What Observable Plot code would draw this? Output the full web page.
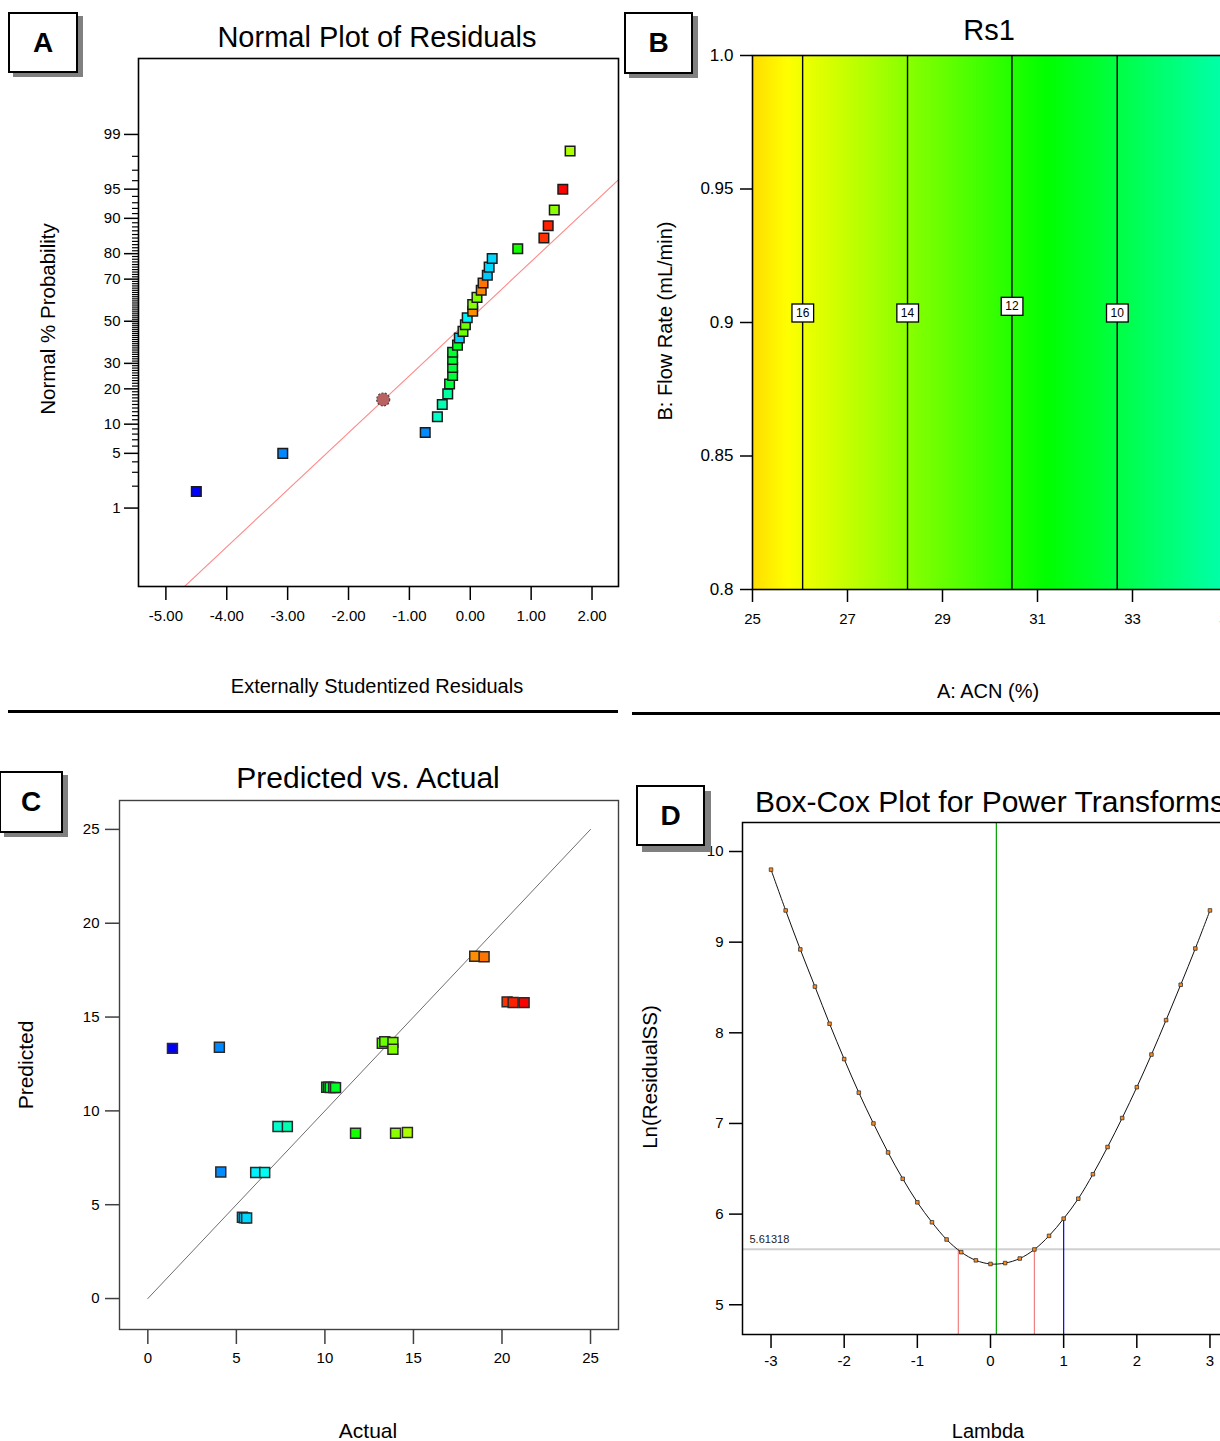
<!DOCTYPE html>
<html>
<head>
<meta charset="utf-8">
<script src="https://cdn.jsdelivr.net/npm/d3@7"></script>
<script src="https://cdn.jsdelivr.net/npm/@observablehq/plot@0.6"></script>
<style>
  html, body { margin: 0; padding: 0; background: #fff; }
  #root { position: relative; width: 1220px; height: 1441px; overflow: hidden; background: #fff;
          font-family: "Liberation Sans", Arial, Helvetica, sans-serif; color: #000; }
  .txt { position: absolute; white-space: nowrap; line-height: 1; transform: translate(-50%, -50%); }
  .txt.rot { transform: translate(-50%, -50%) rotate(-90deg); }
  .tag { position: absolute; box-sizing: border-box; border: 2px solid #000; background: #fff;
         font: bold 28px "Liberation Sans", Arial, sans-serif; display: flex; align-items: center; justify-content: center; }
  .sep { position: absolute; background: #000; }
</style>
</head>
<body>
<div id="root"></div>
<script>
// ---------- A: normal probability plot of externally studentized residuals ----------
const residuals = [-4.50, -3.08, -0.74, -0.54, -0.46, -0.37, -0.34, -0.29, -0.29, -0.29,
                   -0.29, -0.21, -0.18, -0.12, -0.08, -0.05, 0.04, 0.04, 0.11, 0.18,
                   0.21, 0.28, 0.31, 0.36, 0.78, 1.21, 1.28, 1.38, 1.52, 1.64];
const normalPct = [1.7, 5.0, 8.3, 11.7, 15.0, 18.3, 21.7, 25.0, 28.3, 31.7,
                   35.0, 38.3, 41.7, 45.0, 48.3, 51.7, 55.0, 58.3, 61.7, 65.0,
                   68.3, 71.7, 75.0, 78.3, 81.7, 85.0, 88.3, 91.7, 95.0, 98.3];
const residualRs1 = [1.4, 4.0, 4.1, 7.4, 7.9, 8.2, 10.1, 10.2, 10.2, 10.3,
                     10.4, 10.6, 5.5, 13.4, 13.5, 6.1, 18.5, 13.9, 13.8, 18.6,
                     19.0, 5.3, 5.6, 5.6, 11.7, 20.3, 20.6, 14.0, 21.2, 14.7];
const flaggedResidual = -1.43;
const flaggedPct = 16.5;
const normalLineResidual = [-3, 2];
const normalLinePct = [1.79, 92.7];
const probMajorTicks = [1, 5, 10, 20, 30, 50, 70, 80, 90, 95, 99];
const residualTicks = [-5, -4, -3, -2, -1, 0, 1, 2];

// ---------- B: Rs1 contour over ACN and flow rate ----------
const acnGrid = [25, 27, 29, 31, 33, 35];
const rs1Grid = [16.95, 15.15, 13.33, 11.51, 9.71, 7.90];
const contourLevels = [16, 14, 12, 10];
const contourLabelFlow = [0.9035, 0.9035, 0.906, 0.9035];
const acnTicks = [25, 27, 29, 31, 33, 35];
const flowTicks = [0.8, 0.85, 0.9, 0.95, 1.0];

// ---------- C: predicted vs. actual ----------
const actual = [1.39, 4.04, 4.12, 5.34, 5.45, 5.58, 6.09, 6.60, 7.35, 7.88,
                10.10, 10.20, 10.30, 10.50, 10.60, 11.73, 13.24, 13.38, 13.84, 13.84,
                13.99, 14.66, 18.46, 18.99, 20.29, 20.63, 21.25];
const predicted = [13.33, 13.39, 6.74, 4.33, 4.30, 4.29, 6.72, 6.72, 9.17, 9.17,
                   11.26, 11.26, 11.25, 11.25, 11.24, 8.81, 13.60, 13.69, 13.65, 13.28,
                   8.81, 8.85, 18.24, 18.21, 15.81, 15.78, 15.77];
const parityRange = [0, 25];
const predTicks = [0, 5, 10, 15, 20, 25];

// ---------- D: Box-Cox plot ----------
const lambda = [-3, -2.8, -2.6, -2.4, -2.2, -2, -1.8, -1.6, -1.4, -1.2, -1, -0.8, -0.6, -0.4, -0.2,
                0, 0.2, 0.4, 0.6, 0.8, 1, 1.2, 1.4, 1.6, 1.8, 2, 2.2, 2.4, 2.6, 2.8, 3];
const lnResidualSS = [9.80, 9.35, 8.92, 8.51, 8.10, 7.71, 7.34, 7.00, 6.68, 6.39, 6.13, 5.91, 5.72, 5.58, 5.49,
                      5.45, 5.46, 5.51, 5.61, 5.76, 5.95, 6.17, 6.44, 6.74, 7.06, 7.40, 7.76, 8.14, 8.53, 8.93, 9.35];
const lambdaBest = 0.08;
const lambdaCI = [-0.44, 0.60];
const lambdaCurrent = 1;
const ciLnSS = 5.61318;
const lambdaTicks = [-3, -2, -1, 0, 1, 2, 3];
const lnSSTicks = [5, 6, 7, 8, 9, 10];

// ---------- helpers ----------
// inverse standard normal CDF (Acklam)
function probit(p) {
  const a = [-3.969683028665376e+01, 2.209460984245205e+02, -2.759285104469687e+02, 1.383577518672690e+02, -3.066479806614716e+01, 2.506628277459239e+00];
  const b = [-5.447609879822406e+01, 1.615858368580409e+02, -1.556989798598866e+02, 6.680131188771972e+01, -1.328068155288572e+01];
  const c = [-7.784894002430293e-03, -3.223964580411365e-01, -2.400758277161838e+00, -2.549732539343734e+00, 4.374664141464968e+00, 2.938163982698783e+00];
  const d = [7.784695709041462e-03, 3.224671290700398e-01, 2.445134137142996e+00, 3.754408661907416e+00];
  const lo = 0.02425;
  let q, r;
  if (p < lo) {
    q = Math.sqrt(-2 * Math.log(p));
    return (((((c[0]*q+c[1])*q+c[2])*q+c[3])*q+c[4])*q+c[5]) / ((((d[0]*q+d[1])*q+d[2])*q+d[3])*q+1);
  }
  if (p <= 1 - lo) {
    q = p - 0.5; r = q * q;
    return (((((a[0]*r+a[1])*r+a[2])*r+a[3])*r+a[4])*r+a[5])*q / (((((b[0]*r+b[1])*r+b[2])*r+b[3])*r+b[4])*r+1);
  }
  q = Math.sqrt(-2 * Math.log(1 - p));
  return -(((((c[0]*q+c[1])*q+c[2])*q+c[3])*q+c[4])*q+c[5]) / ((((d[0]*q+d[1])*q+d[2])*q+d[3])*q+1);
}
const zOfPct = pct => probit(pct / 100);

// response colouring: blue (low Rs1) through green to red (high Rs1)
const rs1Extent = d3.extent(actual);
const rs1Color = {
  type: "linear",
  domain: rs1Extent,
  range: ["hsl(240,100%,50%)", "hsl(0,100%,50%)"],
  interpolate: d3.interpolateHslLong,
  clamp: true
};

const baseStyle = {
  fontFamily: "'Liberation Sans', Arial, Helvetica, sans-serif",
  fontSize: "15px",
  color: "#000",
  background: "transparent",
  maxWidth: "none"
};

const root = document.getElementById("root");
function place(node, left, top) {
  node.style.position = "absolute";
  node.style.left = left + "px";
  node.style.top = top + "px";
  root.appendChild(node);
  return node;
}
function addText(text, x, y, size, extra = "") {
  const el = document.createElement("div");
  el.className = "txt " + extra;
  el.textContent = text;
  el.style.left = x + "px";
  el.style.top = y + "px";
  el.style.fontSize = size + "px";
  root.appendChild(el);
}
function addTag(letter, left, top, w, h, sx, sy) {
  const el = document.createElement("div");
  el.className = "tag";
  el.textContent = letter;
  Object.assign(el.style, {left: left + "px", top: top + "px", width: w + "px", height: h + "px",
    boxShadow: `${sx}px ${sy}px 0 #808080`});
  root.appendChild(el);
}
function addSep(left, top, w, h) {
  const el = document.createElement("div");
  el.className = "sep";
  Object.assign(el.style, {left: left + "px", top: top + "px", width: w + "px", height: h + "px"});
  root.appendChild(el);
}

// ---------- Panel A ----------
const xDomA = [-5.45, 2.435];
const pointsA = residuals.map((r, i) => ({res: r, z: zOfPct(normalPct[i]), rs1: residualRs1[i]}));
const zL0 = zOfPct(normalLinePct[0]), zL1 = zOfPct(normalLinePct[1]);
const slopeA = (zL1 - zL0) / (normalLineResidual[1] - normalLineResidual[0]);
const normalLine = xDomA.map(x => ({x, z: zL0 + slopeA * (x - normalLineResidual[0])}));
const majorZ = probMajorTicks.map(zOfPct);
const minorZ = d3.range(1, 100).filter(p => !probMajorTicks.includes(p)).map(zOfPct);
const pctLabel = z => String(probMajorTicks[majorZ.findIndex(m => Math.abs(m - z) < 1e-9)]);

const plotA = Plot.plot({
  width: 620, height: 720,
  marginLeft: 138, marginRight: 2, marginTop: 58, marginBottom: 134,
  style: baseStyle,
  x: {domain: xDomA},
  y: {domain: [-3.303, 3.272]},
  color: rs1Color,
  marks: [
    Plot.line(normalLine, {x: "x", y: "z", stroke: "#ff8a8a", strokeWidth: 1.1, clip: true}),
    Plot.axisY(minorZ, {tickSize: 6, tickFormat: () => "", strokeWidth: 1.2, label: null}),
    Plot.axisY(majorZ, {tickSize: 14, tickPadding: 4, tickFormat: pctLabel, fontSize: 15, strokeWidth: 1.5, label: null}),
    Plot.axisX(residualTicks, {tickSize: 14, tickPadding: 10, tickFormat: d => d.toFixed(2), fontSize: 15, strokeWidth: 1.5, label: null}),
    Plot.dot([{res: flaggedResidual, z: zOfPct(flaggedPct)}], {x: "res", y: "z", r: 6.5, fill: "#b86262", stroke: "#444", strokeWidth: 1.2, strokeDasharray: "2,1.5"}),
    Plot.dot(pointsA, {x: "res", y: "z", fill: "rs1", symbol: "square", r: 5.4, stroke: "#1a1a1a", strokeWidth: 1.5}),
    Plot.frame({stroke: "#000", strokeWidth: 1.6})
  ]
});
place(plotA, 0, 0);

// ---------- Panel B ----------
const rs1OfAcn = d3.scaleLinear().domain(acnGrid).range(rs1Grid);
const contours = contourLevels.map((lv, i) => ({acn: rs1OfAcn.invert(lv), flow: contourLabelFlow[i], label: String(lv)}));

const plotB = Plot.plot({
  width: 620, height: 720,
  marginLeft: 132, marginRight: 13, marginTop: 55, marginBottom: 131,
  style: baseStyle,
  x: {domain: [25, 35]},
  y: {domain: [0.8, 1.0]},
  color: rs1Color,
  marks: [
    Plot.raster({fill: (acn, flow) => rs1OfAcn(acn), x1: 25, x2: 35, y1: 0.8, y2: 1.0, imageRendering: "auto"}),
    Plot.ruleX(contours, {x: "acn", stroke: "#000", strokeWidth: 1.4}),
    Plot.text(contours, {x: "acn", y: "flow", text: "label", fontSize: 12, fill: "#000"}),
    Plot.axisY(flowTicks, {tickSize: 12, tickPadding: 7, tickFormat: d => d === 1 ? "1.0" : String(d), fontSize: 17, strokeWidth: 1.5, label: null}),
    Plot.axisX(acnTicks, {tickSize: 13, tickPadding: 11, tickFormat: d => String(d), fontSize: 15, strokeWidth: 1.5, label: null}),
    Plot.frame({stroke: "#000", strokeWidth: 1.6})
  ]
});
place(plotB, 620, 0);

// white boxes behind the contour level labels
const levelNames = contours.map(c => c.label);
Array.from(plotB.querySelectorAll("text"))
  .filter(t => levelNames.includes(t.textContent.trim()) && !(t.closest("g[aria-label]")?.getAttribute("aria-label") || "").includes("axis"))
  .forEach(t => {
    const bb = t.getBBox();
    const rect = document.createElementNS("http://www.w3.org/2000/svg", "rect");
    const w = bb.width + 8, h = 18;
    rect.setAttribute("x", bb.x + bb.width / 2 - w / 2);
    rect.setAttribute("y", bb.y + bb.height / 2 - h / 2);
    rect.setAttribute("width", w);
    rect.setAttribute("height", h);
    rect.setAttribute("fill", "#fff");
    rect.setAttribute("stroke", "#000");
    rect.setAttribute("stroke-width", "1.3");
    if (t.getAttribute("transform")) rect.setAttribute("transform", t.getAttribute("transform"));
    t.parentNode.insertBefore(rect, t);
  });

// ---------- Panel C ----------
const pointsC = actual.map((a, i) => ({actual: a, predicted: predicted[i]}));
const plotC = Plot.plot({
  width: 620, height: 721,
  marginLeft: 119, marginRight: 2, marginTop: 80, marginBottom: 112,
  style: baseStyle,
  x: {domain: [-1.6, 26.58]},
  y: {domain: [-1.65, 26.54]},
  color: rs1Color,
  marks: [
    Plot.line(parityRange, {x: d => d, y: d => d, stroke: "#6e6e6e", strokeWidth: 1}),
    Plot.dot(pointsC, {x: "actual", y: "predicted", fill: "actual", symbol: "square", r: 5.6, stroke: "#2a2a2a", strokeWidth: 1.5}),
    Plot.axisY(predTicks, {tickSize: 14, tickPadding: 6, tickFormat: d => String(d), fontSize: 15, stroke: "#404040", strokeWidth: 1.5, label: null}),
    Plot.axisX(predTicks, {tickSize: 15, tickPadding: 8, tickFormat: d => String(d), fontSize: 15, stroke: "#404040", strokeWidth: 1.5, label: null}),
    Plot.frame({stroke: "#404040", strokeWidth: 1.4})
  ]
});
place(plotC, 0, 720);

// ---------- Panel D ----------
const yDomD = [4.672, 10.32];
const boxCox = lambda.map((l, i) => ({lambda: l, lnss: lnResidualSS[i]}));
const lnssAt = l => lnResidualSS[lambda.findIndex(v => Math.abs(v - l) < 1e-9)];
const plotD = Plot.plot({
  width: 620, height: 721,
  marginLeft: 122, marginRight: 2, marginTop: 102, marginBottom: 107,
  style: baseStyle,
  x: {domain: [-3.39, 3.39]},
  y: {domain: yDomD},
  marks: [
    Plot.ruleY([ciLnSS], {y: d => d, stroke: "#d0d0d0", strokeWidth: 2}),
    Plot.text([ciLnSS], {y: d => d, frameAnchor: "left", text: d => d.toFixed(5), dx: 7, dy: -10, textAnchor: "start", fontSize: 11, fill: "#222"}),
    Plot.ruleX([lambdaBest], {x: d => d, stroke: "#00a000", strokeWidth: 1.2}),
    Plot.ruleX(lambdaCI, {x: d => d, y1: () => yDomD[0], y2: () => ciLnSS, stroke: "#f08080", strokeWidth: 1.2}),
    Plot.ruleX([lambdaCurrent], {x: d => d, y1: () => yDomD[0], y2: d => lnssAt(d), stroke: "#0000ff", strokeWidth: 1.2}),
    Plot.line(boxCox, {x: "lambda", y: "lnss", stroke: "#111", strokeWidth: 1, curve: "catmull-rom"}),
    Plot.dot(boxCox, {x: "lambda", y: "lnss", symbol: "square", r: 2, fill: "#ff8c1a", stroke: "#333", strokeWidth: 0.8}),
    Plot.axisY(lnSSTicks, {tickSize: 13, tickPadding: 6, tickFormat: d => String(d), fontSize: 15, strokeWidth: 1.5, label: null}),
    Plot.axisX(lambdaTicks, {tickSize: 14, tickPadding: 7, tickFormat: d => String(d), fontSize: 15, strokeWidth: 1.5, label: null}),
    Plot.frame({stroke: "#000", strokeWidth: 1.5})
  ]
});
place(plotD, 620, 720);

// ---------- titles and axis labels ----------
addText("Normal Plot of Residuals", 377, 37, 29);
addText("Externally Studentized Residuals", 377, 686, 20);
addText("Normal % Probability", 48, 319, 20.5, "rot");

addText("Rs1", 989, 30, 29);
addText("A: ACN (%)", 988, 691, 20);
addText("B: Flow Rate (mL/min)", 665, 321, 20, "rot");

addText("Predicted vs. Actual", 368, 778, 30);
addText("Actual", 368, 1430, 21);
addText("Predicted", 25, 1065, 21, "rot");

addText("Box-Cox Plot for Power Transforms", 990, 802, 30);
addText("Lambda", 988, 1431, 20);
addText("Ln(ResidualSS)", 650, 1077, 20.5, "rot");

// ---------- panel separators and letter tags ----------
addSep(8, 710, 610, 2.5);
addSep(632, 712, 588, 2.5);

addTag("A", 8, 12, 70, 61, 5, 4);
addTag("B", 624, 12, 69, 62, 5, 4);
addTag("C", -1, 771, 64, 62, 5, 4);
addTag("D", 636, 785, 69, 61, 6, 6);
</script>
</body>
</html>
